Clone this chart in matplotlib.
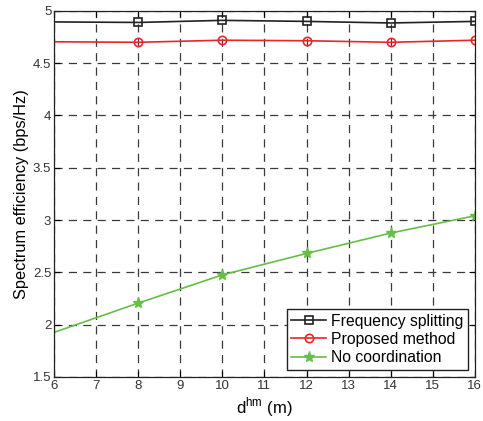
import numpy as np
import matplotlib
matplotlib.use('Agg')
import matplotlib.pyplot as plt

plt.rcParams['font.family'] = ['Liberation Sans', 'DejaVu Sans']

d_hm = [6, 8, 10, 12, 14, 16]
freq_split = [4.895, 4.89, 4.91, 4.90, 4.885, 4.90]
proposed = [4.705, 4.70, 4.72, 4.715, 4.70, 4.72]
no_coord = [1.925, 2.205, 2.475, 2.68, 2.875, 3.04]

fig = plt.figure(figsize=(4.83, 4.21), dpi=100)
ax = fig.add_axes([0.112, 0.105, 0.871, 0.869])

ax.plot(d_hm, freq_split, color='#222222', lw=1.2, marker='s', ms=6,
        mfc='none', mew=1.2, markevery=slice(1, None), label='Frequency splitting')
ax.plot(d_hm, proposed, color='#e8262a', lw=1.2, marker='o', ms=6,
        mfc='none', mew=1.2, markevery=slice(1, None), label='Proposed method')
ax.plot(d_hm, no_coord, color='#66bf45', lw=1.2, marker='*', ms=8,
        markevery=slice(1, None), label='No coordination')

ax.set_xlim(6, 16)
ax.set_ylim(1.5, 5)
ax.set_xticks(np.arange(6, 17, 1))
ax.set_yticks(np.arange(1.5, 5.01, 0.5))
ax.set_yticklabels(['1.5', '2', '2.5', '3', '3.5', '4', '4.5', '5'])
ax.grid(True, color='#3a3a3a', linestyle=(0, (6.5, 5)), linewidth=0.9)
ax.tick_params(direction='in', top=True, right=True, labelsize=9.5,
               labelcolor='#333333', length=4, pad=2)
for s in ax.spines.values():
    s.set_color('#222222')
    s.set_linewidth(0.9)

ax.set_xlabel('d$^{\\mathregular{hm}}$ (m)', fontsize=12, labelpad=3)
ax.set_ylabel('Spectrum efficiency (bps/Hz)', fontsize=11.8, labelpad=3)

leg = ax.legend(loc='lower right', fontsize=11.3, fancybox=False,
                framealpha=1, edgecolor='#222222', borderpad=0.3,
                handlelength=2.2, handletextpad=0.3, labelspacing=0.2,
                borderaxespad=0.45)
leg.get_frame().set_linewidth(1.0)

fig.savefig('out.png', dpi=100)
